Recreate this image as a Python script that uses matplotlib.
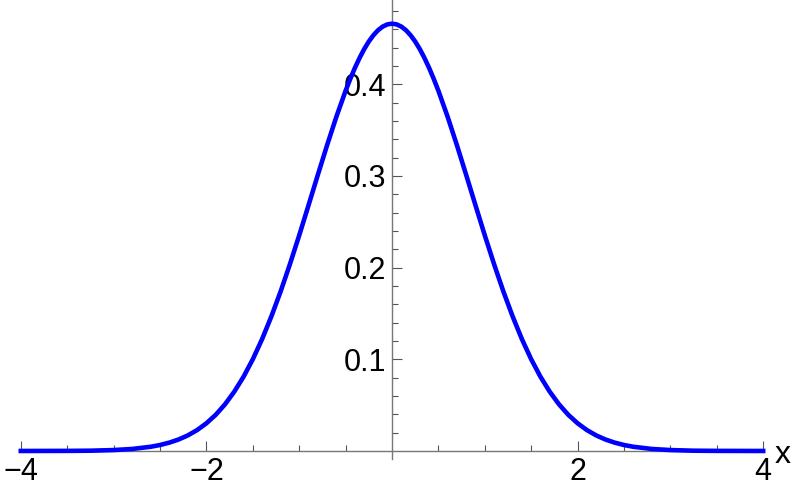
import matplotlib.pyplot as plt
from matplotlib.ticker import FixedLocator

plt.rcParams['font.family'] = ['Liberation Sans', 'DejaVu Sans']

# curve values (symmetric bell, peak ~0.466 at x=0)
x_pos = [0.0, 0.05, 0.1, 0.15, 0.2, 0.25, 0.3, 0.35, 0.4, 0.45, 0.5,
         0.6, 0.7, 0.8, 0.9, 1.0, 1.1, 1.2, 1.3, 1.4, 1.5, 1.6, 1.7,
         1.8, 1.9, 2.0, 2.1, 2.2, 2.3, 2.4, 2.5, 2.6, 2.8, 3.0, 3.25,
         3.5, 4.0]
y_pos = [0.466, 0.4652, 0.4628, 0.4589, 0.4534, 0.4465, 0.4382, 0.4285,
         0.4177, 0.4057, 0.3928, 0.3643, 0.3333, 0.3008, 0.2678, 0.2351,
         0.2037, 0.174, 0.1467, 0.1219, 0.100, 0.0809, 0.0646, 0.0508,
         0.0394, 0.0302, 0.0228, 0.017, 0.0125, 0.0091, 0.0065, 0.0046,
         0.0022, 0.001, 0.0003, 0.0001, 0.0]

x_vals = [-v for v in x_pos[:0:-1]] + x_pos
y_vals = y_pos[:0:-1] + y_pos

x_major = [-4, -2, 2, 4]
x_minor = [-3.5, -3, -2.5, -1.5, -1, -0.5, 0.5, 1, 1.5, 2.5, 3, 3.5]
y_major = [0.1, 0.2, 0.3, 0.4]
y_minor = [0.02, 0.04, 0.06, 0.08, 0.12, 0.14, 0.16, 0.18, 0.22, 0.24,
           0.26, 0.28, 0.32, 0.34, 0.36, 0.38, 0.42, 0.44, 0.46, 0.48]

fig = plt.figure(figsize=(7.93, 4.96), dpi=100)
ax = fig.add_axes([0, 0, 1, 1])

ax.plot(x_vals, y_vals, color='#0000ff', lw=3.3, zorder=3,
        solid_joinstyle='round')

ax.set_xlim(-4.224, 4.321)
ax.set_ylim(-0.0491, 0.4918)

# Mathematica-style axes through the origin
ax.spines['right'].set_visible(False)
ax.spines['top'].set_visible(False)
ax.spines['left'].set_position(('data', 0))
ax.spines['bottom'].set_position(('data', 0))
ax.spines['bottom'].set_bounds(-4, 4)
ax.spines['left'].set_bounds(-0.009, 0.4918)
for s in ('left', 'bottom'):
    ax.spines[s].set_color('#777777')
    ax.spines[s].set_linewidth(1.0)

ax.xaxis.set_major_locator(FixedLocator(x_major))
ax.xaxis.set_minor_locator(FixedLocator(x_minor))
ax.yaxis.set_major_locator(FixedLocator(y_major))
ax.yaxis.set_minor_locator(FixedLocator(y_minor))
ax.set_xticklabels(['\u22124', '\u22122', '2', '4'])
ax.set_yticklabels(['0.1', '0.2', '0.3', '0.4'])

ax.tick_params(which='both', direction='in', color='#555555', width=0.8,
               labelsize=22, labelcolor='black')
ax.tick_params(which='major', length=7)
ax.tick_params(which='minor', length=4.5)
ax.tick_params(axis='x', pad=4)
ax.tick_params(axis='y', pad=4)

ax.text(4.127, -0.0131, 'x', fontsize=23, ha='left', va='baseline')

fig.savefig('out.png', dpi=100)
